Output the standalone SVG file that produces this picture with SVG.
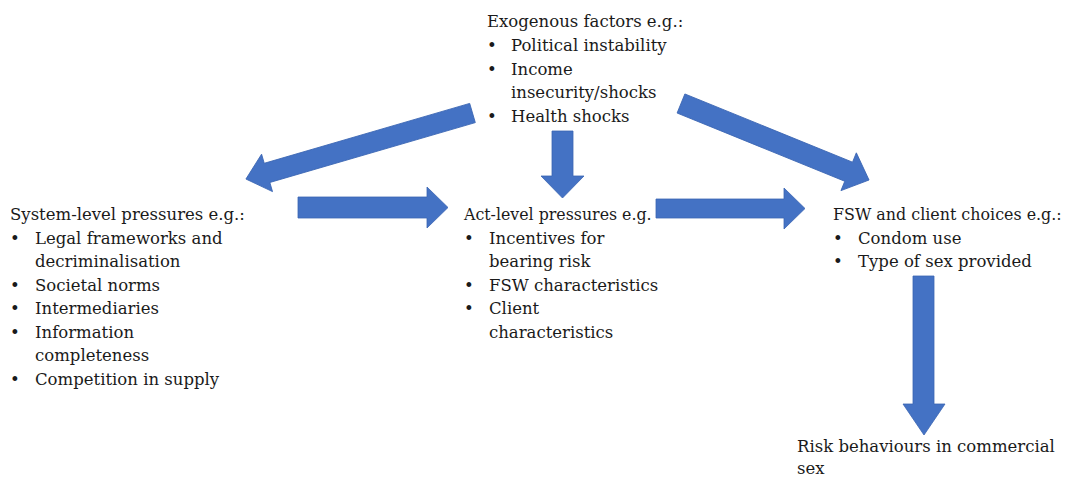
<svg xmlns="http://www.w3.org/2000/svg" width="1067" height="477" viewBox="0 0 1067 477">
<style>
.t{font-family:"DejaVu Serif","Liberation Serif",serif;font-size:16.5px;fill:#1a1a1a}
.arr{fill:#4472C4;stroke:#3A65B3;stroke-width:0.8}
</style>
<rect width="1067" height="477" fill="#ffffff"/>
<g id="exogenous">
<text class="t" x="487" y="27">Exogenous factors e.g.:</text>
<text class="t" x="487" y="51">•</text><text class="t" x="511" y="51">Political instability</text>
<text class="t" x="487" y="74.5">•</text><text class="t" x="511" y="74.5">Income</text>
<text class="t" x="511" y="98">insecurity/shocks</text>
<text class="t" x="487" y="121.5">•</text><text class="t" x="511" y="121.5">Health shocks</text>
</g>
<g id="system">
<text class="t" x="10" y="220">System-level pressures e.g.:</text>
<text class="t" x="10" y="243.5">•</text><text class="t" x="35" y="243.5">Legal frameworks and</text>
<text class="t" x="35" y="267">decriminalisation</text>
<text class="t" x="10" y="290.5">•</text><text class="t" x="35" y="290.5">Societal norms</text>
<text class="t" x="10" y="314">•</text><text class="t" x="35" y="314">Intermediaries</text>
<text class="t" x="10" y="337.5">•</text><text class="t" x="35" y="337.5">Information</text>
<text class="t" x="35" y="361">completeness</text>
<text class="t" x="10" y="384.5">•</text><text class="t" x="35" y="384.5">Competition in supply</text>
</g>
<g id="act">
<text class="t" x="464" y="220" style="font-size:15.8px">Act-level pressures e.g.</text>
<text class="t" x="464" y="243.5">•</text><text class="t" x="489" y="243.5">Incentives for</text>
<text class="t" x="489" y="267">bearing risk</text>
<text class="t" x="464" y="290.5">•</text><text class="t" x="489" y="290.5">FSW characteristics</text>
<text class="t" x="464" y="314">•</text><text class="t" x="489" y="314">Client</text>
<text class="t" x="489" y="337.5">characteristics</text>
</g>
<g id="choices">
<text class="t" x="833" y="220" style="font-size:15.9px">FSW and client choices e.g.:</text>
<text class="t" x="833" y="243.5">•</text><text class="t" x="858" y="243.5">Condom use</text>
<text class="t" x="833" y="267">•</text><text class="t" x="858" y="267">Type of sex provided</text>
</g>
<g id="risk">
<text class="t" x="797" y="452">Risk behaviours in commercial</text>
<text class="t" x="797" y="474">sex</text>
</g>
<g id="connectors">
<polygon class="arr" transform="translate(472.5,113) rotate(163.75)" points="0,-10 214,-10 214,-19.5 236,0 214,19.5 214,10 0,10"/>
<polygon class="arr" transform="translate(681,103.5) rotate(22.14)" points="0,-10.3 181,-10.3 181,-20.4 203,0 181,20.4 181,10.3 0,10.3"/>
<polygon class="arr" points="552,131 573,131 573,176 584,176 562.5,198 541,176 552,176"/>
<polygon class="arr" points="298,197 427,197 427,187 448,207.5 427,228 427,218 298,218"/>
<polygon class="arr" points="656,199 784,199 784,188 805,208.5 784,229 784,218 656,218"/>
<polygon class="arr" points="913,276 934,276 934,404 945,404 924,435 903,404 913,404"/>
</g>
</svg>
